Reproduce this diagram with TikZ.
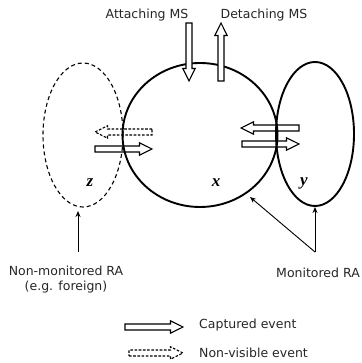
\documentclass[tikz,border=0pt]{standalone}
\usepackage{fontspec}
\setmainfont{DejaVu Sans}
\newfontfamily\labfont{Liberation Serif}
\usetikzlibrary{shapes.geometric,arrows.meta}
% block arrow: [opts]{x}{y}{angle}{length}
\newcommand{\blockarr}[5][]{%
  \draw[blkarrow,#1,shift={(#2,#3)},rotate=#4]
    (0,-3) -- ({#5-12.5},-3) -- ({#5-12.5},-6.2) -- (#5,0) -- ({#5-12.5},6.2) -- ({#5-12.5},3) -- (0,3) -- cycle;}
\begin{document}
\begin{tikzpicture}[x=1pt,y=1pt,
  txt/.style={font=\fontsize{12.5}{15}\selectfont, inner sep=0pt, text=black!85},
  lab/.style={font=\labfont\bfseries\itshape\fontsize{17}{17}\selectfont, inner sep=0pt},
  region/.style={draw, ellipse, inner sep=0pt, line width=1.9pt},
  blkarrow/.style={draw, fill=white, line width=1.1pt, line join=miter},
  hidden/.style={dash pattern=on 2.6pt off 1.6pt, line width=1.1pt},
  conn/.style={draw, line width=0.9pt, -{Stealth[length=6pt,width=5pt]}}]
\useasboundingbox (0,0) rectangle (361,363);

% side event arrows (under the regions)
\blockarr[hidden]{152}{231}{180}{57}
\blockarr{95}{214}{0}{57}
\blockarr{299}{235}{180}{58}
\blockarr{242}{219}{0}{57}

% regions
\node[region, dash pattern=on 4pt off 3pt, line width=1.1pt, minimum width=80pt, minimum height=144pt] (z) at (83,228) {};
\node[region, minimum width=155pt, minimum height=144pt] (x) at (200,228) {};
\node[region, minimum width=78pt, minimum height=144pt] (y) at (315,229) {};

% attaching / detaching arrows
\blockarr{189}{340}{-90}{58}
\blockarr{221}{282}{90}{58}

% region labels
\node[lab] (zl) at (90,180) {z};
\node[lab] (xl) at (216,180) {x};
\node[lab] (yl) at (304,180) {y};

% texts
\node[txt] (attach) at (147,348) {Attaching MS};
\node[txt] (detach) at (264,348) {Detaching MS};
\node[txt, align=center] (nonmon) at (66,83) {Non-monitored RA\\(e.g. foreign)};
\node[txt] (mon) at (318,90) {Monitored RA};
\node[txt, anchor=west] (capt) at (199,38) {Captured event};
\node[txt, anchor=west] (nonvis) at (199,10) {Non-visible event};

% connectors
\coordinate (nmbase) at (78,111);
\coordinate (nmtip) at (78,152);
\coordinate (mbase) at (315,111);
\coordinate (mtipx) at (250,166);
\coordinate (mtipy) at (315,156);
\draw[conn] (nmbase) -- (nmtip);
\draw[conn] (mbase) -- (mtipx);
\draw[conn] (mbase) -- (mtipy);

% legend
\blockarr{125}{36}{0}{58}
\blockarr[hidden]{129}{10}{0}{54}
\end{tikzpicture}
\end{document}
